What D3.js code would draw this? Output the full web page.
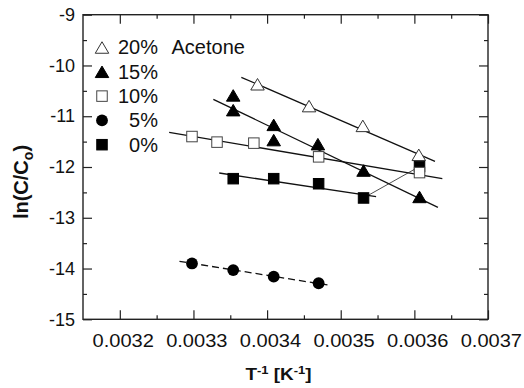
<!DOCTYPE html>
<html>
<head>
<meta charset="utf-8">
<script src="https://cdn.jsdelivr.net/npm/d3@7"></script>
<style>
  html, body { margin: 0; padding: 0; background: #fff; }
  svg { display: block; font-family: "Liberation Sans", Arial, Helvetica, sans-serif; }
</style>
</head>
<body>
<svg id="chart" width="524" height="388"></svg>
<script>
// ---- data ----
const xTicksMajor = [0.0032, 0.0033, 0.0034, 0.0035, 0.0036, 0.0037];
const xTickLabels = ["0.0032", "0.0033", "0.0034", "0.0035", "0.0036", "0.0037"];
const xTicksMinor = [0.00325, 0.00335, 0.00345, 0.00355, 0.00365];
const yTicksMajor = [-9, -10, -11, -12, -13, -14, -15];
const yTickLabels = ["-9", "-10", "-11", "-12", "-13", "-14", "-15"];
const yTicksMinor = [-9.5, -10.5, -11.5, -12.5, -13.5, -14.5];

const seriesNames = ["20%", "15%", "10%", "5%", "0%"];
const seriesMarkers = ["triangleOpen", "triangleFilled", "squareOpen", "circleFilled", "squareFilled"];

const acetone20X = [0.003387, 0.003457, 0.003530, 0.003606];
const acetone20Y = [-10.37, -10.80, -11.19, -11.76];
const acetone15X = [0.003354, 0.003354, 0.003409, 0.003409, 0.003469, 0.003531, 0.003607];
const acetone15Y = [-10.59, -10.88, -11.17, -11.47, -11.55, -12.07, -12.59];
const acetone10X = [0.003298, 0.003332, 0.003382, 0.003470, 0.003607];
const acetone10Y = [-11.40, -11.51, -11.53, -11.80, -12.11];
const acetone5X  = [0.003298, 0.003354, 0.003409, 0.003470];
const acetone5Y  = [-13.90, -14.03, -14.16, -14.29];
const acetone0X  = [0.003354, 0.003409, 0.003470, 0.003531, 0.003607];
const acetone0Y  = [-12.23, -12.23, -12.33, -12.61, -11.99];

// fitted straight lines (end points)
const fit20X = [0.003365, 0.003628]; const fit20Y = [-10.233, -11.888];
const fit15X = [0.003327, 0.003632]; const fit15Y = [-10.667, -12.794];
const fit10X = [0.003267, 0.003638]; const fit10Y = [-11.317, -12.230];
const fit0X  = [0.003335, 0.003548]; const fit0Y  = [-12.118, -12.585];
const fit5X  = [0.003281, 0.003482]; const fit5Y  = [-13.857, -14.324];

// ---- layout ----
const svg = d3.select("#chart");
const L = 83, R = 488, T = 14.7, B = 319.3;
const x = d3.scaleLinear().domain([0.00315, 0.0037]).range([L, R]);
const y = d3.scaleLinear().domain([-15, -9]).range([B, T]);
const ink = "#222";

svg.append("rect").attr("width", 524).attr("height", 388).attr("fill", "#fff");

// axes
function styleAxis(g) {
  g.select(".domain").remove();
  g.selectAll(".tick line").attr("stroke", ink).attr("stroke-width", 1.2);
  g.selectAll("text").attr("fill", "#111").attr("font-family", "'Liberation Sans', Arial, sans-serif");
}
// bottom
svg.append("g").attr("transform", `translate(0,${B})`)
  .call(d3.axisBottom(x).tickValues(xTicksMajor).tickSizeInner(-9).tickSizeOuter(0).tickPadding(15.5)
    .tickFormat((d, i) => xTickLabels[i]))
  .call(styleAxis)
  .call(g => g.selectAll("text").attr("font-size", 17.6).attr("x", 2.5)
    .attr("transform", "scale(1.14,1)"));
svg.append("g").attr("transform", `translate(0,${B})`)
  .call(d3.axisBottom(x).tickValues(xTicksMinor).tickSizeInner(-4).tickSizeOuter(0).tickFormat(""))
  .call(styleAxis);
// top
svg.append("g").attr("transform", `translate(0,${T})`)
  .call(d3.axisTop(x).tickValues(xTicksMajor).tickSizeInner(-9).tickSizeOuter(0).tickFormat(""))
  .call(styleAxis);
svg.append("g").attr("transform", `translate(0,${T})`)
  .call(d3.axisTop(x).tickValues(xTicksMinor).tickSizeInner(-4).tickSizeOuter(0).tickFormat(""))
  .call(styleAxis);
// left
svg.append("g").attr("transform", `translate(${L},0)`)
  .call(d3.axisLeft(y).tickValues(yTicksMajor).tickSizeInner(-9).tickSizeOuter(0).tickPadding(8)
    .tickFormat((d, i) => yTickLabels[i]))
  .call(styleAxis)
  .call(g => g.selectAll("text").attr("font-size", 18));
svg.append("g").attr("transform", `translate(${L},0)`)
  .call(d3.axisLeft(y).tickValues(yTicksMinor).tickSizeInner(-4).tickSizeOuter(0).tickFormat(""))
  .call(styleAxis);
// right
svg.append("g").attr("transform", `translate(${R},0)`)
  .call(d3.axisRight(y).tickValues(yTicksMajor).tickSizeInner(-9).tickSizeOuter(0).tickFormat(""))
  .call(styleAxis);
svg.append("g").attr("transform", `translate(${R},0)`)
  .call(d3.axisRight(y).tickValues(yTicksMinor).tickSizeInner(-4).tickSizeOuter(0).tickFormat(""))
  .call(styleAxis);

// frame
svg.append("rect").attr("x", L).attr("y", T).attr("width", R - L).attr("height", B - T)
  .attr("fill", "none").attr("stroke", ink).attr("stroke-width", 1.4);

// fit lines
const line = d3.line().x(d => x(d[0])).y(d => y(d[1]));
const fits = [
  [fit20X, fit20Y, null], [fit15X, fit15Y, null], [fit10X, fit10Y, null],
  [fit0X, fit0Y, null], [fit5X, fit5Y, "7,4"]
];
fits.forEach(([xs, ys, dash]) => {
  svg.append("path").attr("d", line(d3.zip(xs, ys)))
    .attr("fill", "none").attr("stroke", "#111").attr("stroke-width", 1.3)
    .attr("stroke-dasharray", dash);
});
// thin connector between last two 0% points
svg.append("path").attr("d", line(d3.zip(acetone0X.slice(3), acetone0Y.slice(3))))
  .attr("fill", "none").attr("stroke", "#222").attr("stroke-width", 0.8);

// markers
function drawMarker(g, type, cx, cy) {
  if (type.startsWith("triangle")) {
    const w = 13.5, h = 11.5;
    g.append("path").attr("d", `M${cx},${cy - h/2}L${cx + w/2},${cy + h/2}L${cx - w/2},${cy + h/2}Z`)
      .attr("fill", type === "triangleOpen" ? "#fff" : "#000")
      .attr("stroke", type === "triangleOpen" ? "#333" : "#000").attr("stroke-width", 1);
  } else if (type.startsWith("square")) {
    const s = 10.5;
    g.append("rect").attr("x", cx - s/2).attr("y", cy - s/2).attr("width", s).attr("height", s)
      .attr("fill", type === "squareOpen" ? "#fff" : "#000")
      .attr("stroke", type === "squareOpen" ? "#444" : "#000").attr("stroke-width", 1);
  } else {
    g.append("circle").attr("cx", cx).attr("cy", cy).attr("r", 5.9).attr("fill", "#000");
  }
}
const marks = svg.append("g");
const plotOrder = [
  [acetone0X, acetone0Y, "squareFilled"],
  [acetone5X, acetone5Y, "circleFilled"],
  [acetone10X, acetone10Y, "squareOpen"],
  [acetone15X, acetone15Y, "triangleFilled"],
  [acetone20X, acetone20Y, "triangleOpen"]
];
plotOrder.forEach(([xs, ys, type]) => {
  xs.forEach((xv, i) => drawMarker(marks, type, x(xv), y(ys[i])));
});

// legend
const leg = svg.append("g");
seriesNames.forEach((name, i) => {
  const cy = 47.5 + i * 24.3;
  drawMarker(leg, seriesMarkers[i], 102, cy);
  leg.append("text").attr("x", 158).attr("y", cy + 6.8).attr("text-anchor", "end")
    .attr("font-size", 20).attr("fill", "#111").text(name);
});
leg.append("text").attr("x", 171.5).attr("y", 47.5 + 6.8).attr("font-size", 20)
  .attr("fill", "#111").text("Acetone");

// y axis title
const yt = svg.append("text").attr("transform", "translate(28,182) rotate(-90)")
  .attr("text-anchor", "middle").attr("font-size", 20).attr("font-weight", "bold").attr("fill", "#111");
yt.append("tspan").text("ln(C/C");
yt.append("tspan").attr("font-size", 14).attr("dy", 5).text("o");
yt.append("tspan").attr("dy", -5).text(")");

// x axis title
const xg = svg.append("g").attr("transform", "translate(278.5,380) scale(1.18,1)");
const xt = xg.append("text").attr("text-anchor", "middle").attr("font-size", 16)
  .attr("font-weight", "bold").attr("fill", "#111");
xt.append("tspan").text("T");
xt.append("tspan").attr("font-size", 11).attr("dy", -6).text("-1");
xt.append("tspan").attr("dy", 6).text(" [K");
xt.append("tspan").attr("font-size", 11).attr("dy", -6).text("-1");
xt.append("tspan").attr("dy", 6).text("]");
</script>
</body>
</html>
